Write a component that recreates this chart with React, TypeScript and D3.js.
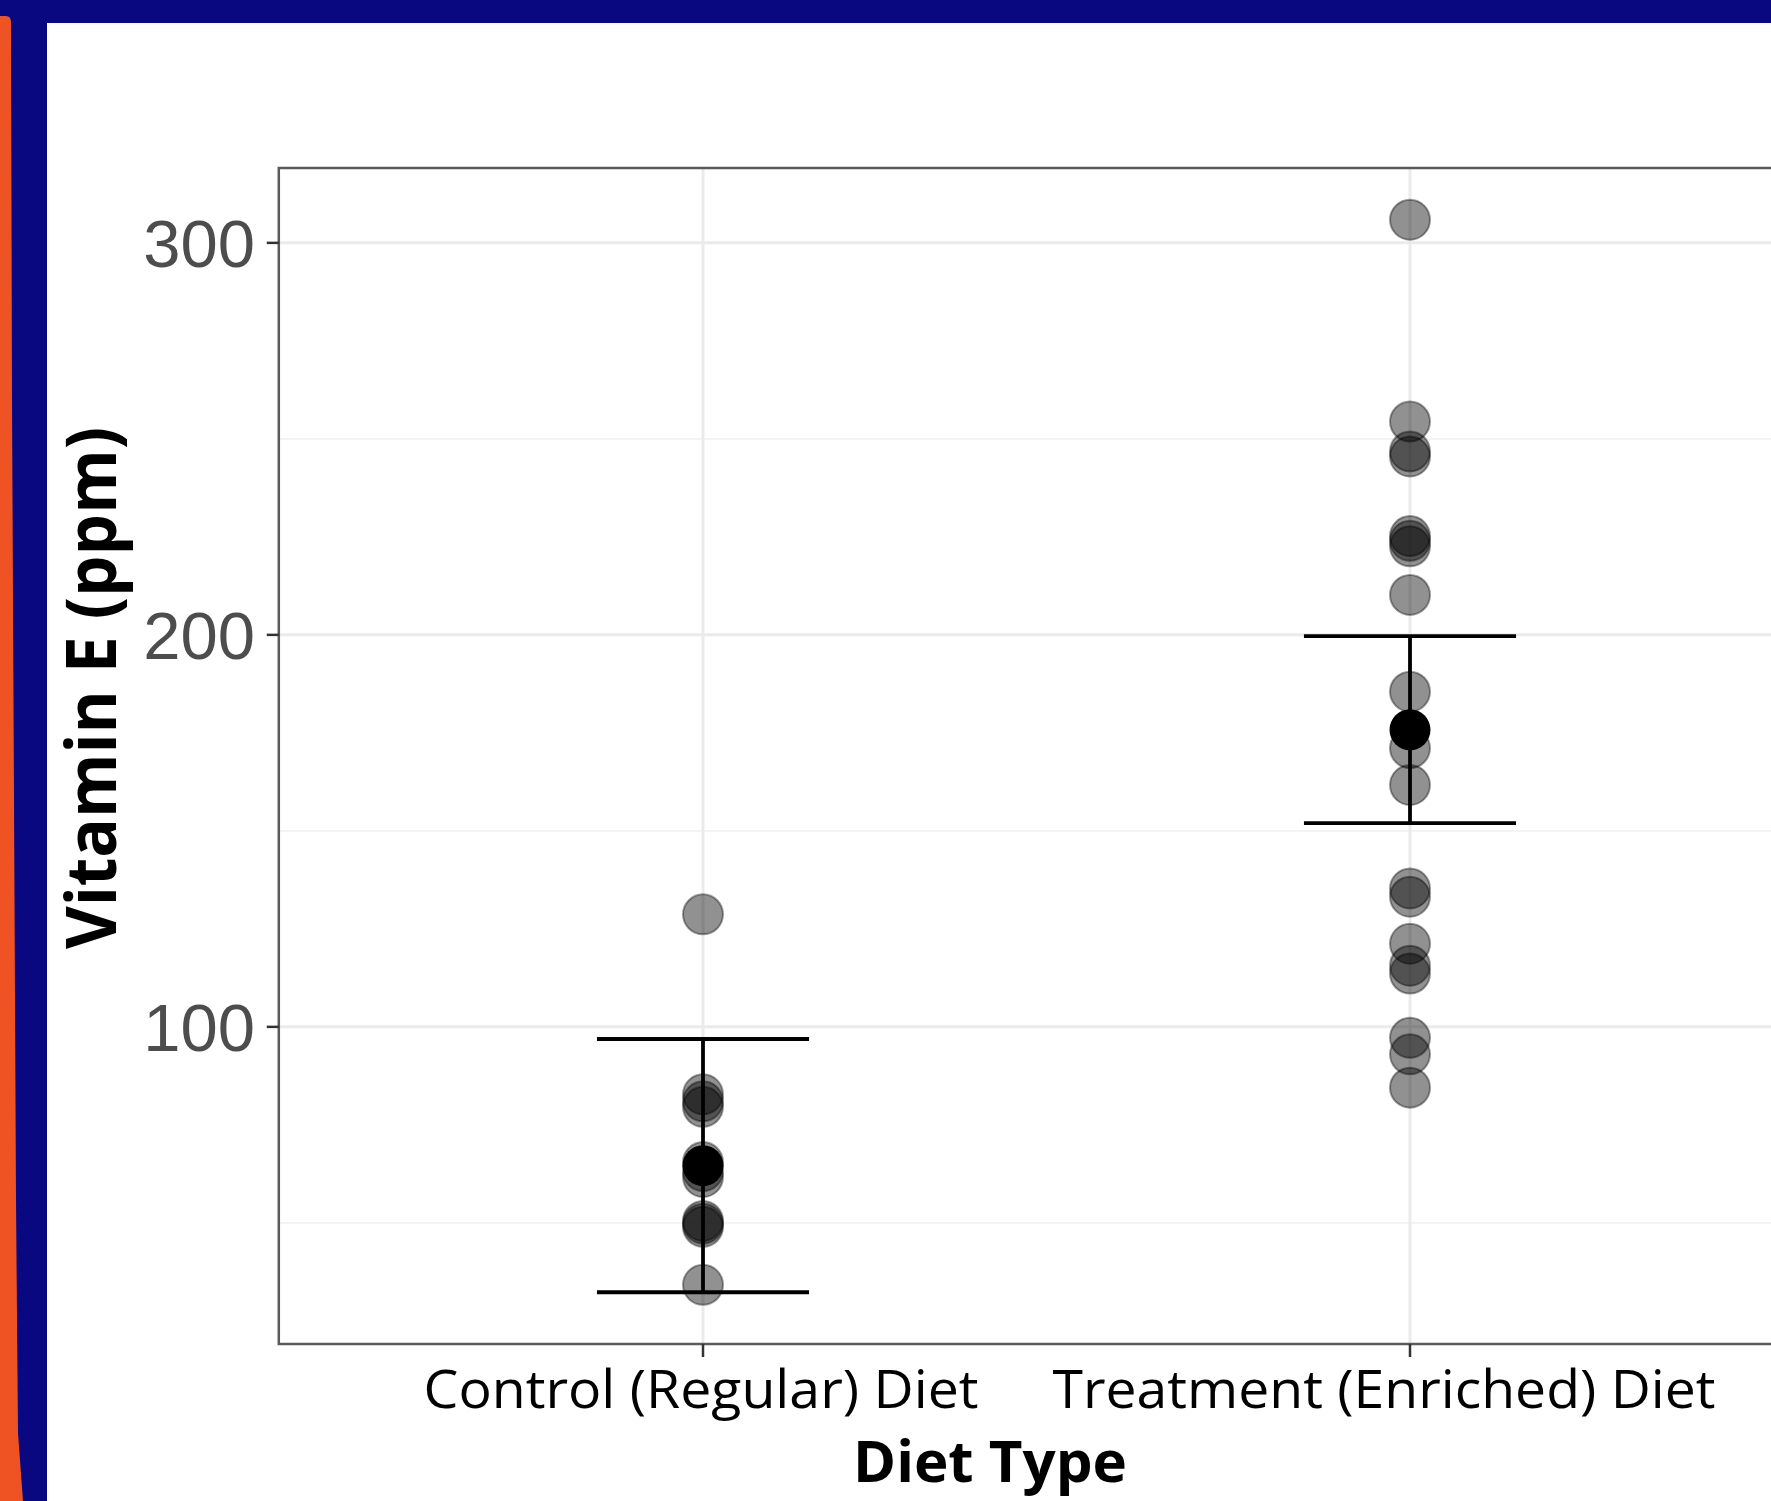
import React from "react";
import * as d3 from "d3";

const categories = ["Control (Regular) Diet", "Treatment (Enriched) Diet"];
const controlValues = [128.7, 82.8, 81.0, 79.6, 65.5, 63.2, 61.7, 50.5, 49.8, 49.0, 34.2];
const treatmentValues = [
  305.9, 254.4, 246.8, 245.5, 225.2, 224.0, 222.6, 210.2, 185.5, 171.1, 161.7,
  135.3, 133.2, 121.2, 115.6, 113.6, 97.2, 93.0, 84.5,
];
const groupMeans = [64.6, 175.8];
const groupLower = [32.3, 152.0];
const groupUpper = [96.9, 199.7];
const majorTicks = [100, 200, 300];
const minorTicks = [50, 150, 250];

const W = 1771;
const H = 1501;

export default function App() {
  const y = d3.scaleLinear().domain([19.1, 319.1]).range([1344, 168]);
  const x = d3.scalePoint<string>().domain(categories).range([703, 1410]);
  const step = x.step();
  const panelL = (x(categories[0]) as number) - 0.6 * step;
  const panelR = (x(categories[1]) as number) + 0.6 * step;
  const panelT = y.range()[1];
  const panelB = y.range()[0];
  const groups = [controlValues, treatmentValues];
  const r = 20;
  const ebHalf = 0.15 * step;

  return (
    <>
      <style>{`body{margin:0}`}</style>
      <svg width={W} height={H} style={{ display: "block" }}>
        <rect x={0} y={0} width={W} height={H} fill="#0a0880" />
        <path
          d="M0,16 L6,16 Q11,16 11,22 L12,400 L14,800 L16,1200 L18,1433 L23,1501 L0,1501 Z"
          fill="#f05323"
        />
        <rect x={47} y={23} width={W - 47} height={H - 23} fill="#ffffff" />

        {/* grid */}
        {minorTicks.map((t) => (
          <line key={"mi" + t} x1={panelL} x2={panelR} y1={y(t)} y2={y(t)} stroke="#f2f2f2" strokeWidth={1.6} />
        ))}
        {majorTicks.map((t) => (
          <line key={"ma" + t} x1={panelL} x2={panelR} y1={y(t)} y2={y(t)} stroke="#ebebeb" strokeWidth={3} />
        ))}
        {categories.map((c) => (
          <line key={"vg" + c} x1={x(c)} x2={x(c)} y1={panelT} y2={panelB} stroke="#ebebeb" strokeWidth={3} />
        ))}

        {/* points */}
        {groups.map((vals, gi) =>
          vals.map((v, i) => (
            <circle
              key={gi + "-" + i}
              cx={x(categories[gi])}
              cy={y(v)}
              r={r}
              fill="rgba(0,0,0,0.43)"
              stroke="rgba(0,0,0,0.38)"
              strokeWidth={2}
            />
          ))
        )}

        {/* error bars */}
        {categories.map((c, i) => {
          const cx = x(c) as number;
          return (
            <g key={"eb" + c} stroke="#000" strokeWidth={3.8}>
              <line x1={cx} x2={cx} y1={y(groupLower[i])} y2={y(groupUpper[i])} />
              <line x1={cx - ebHalf} x2={cx + ebHalf} y1={y(groupLower[i])} y2={y(groupLower[i])} />
              <line x1={cx - ebHalf} x2={cx + ebHalf} y1={y(groupUpper[i])} y2={y(groupUpper[i])} />
            </g>
          );
        })}
        {categories.map((c, i) => (
          <circle key={"m" + c} cx={x(c)} cy={y(groupMeans[i])} r={20.5} fill="#000" />
        ))}

        {/* panel border */}
        <rect x={panelL} y={panelT} width={panelR - panelL} height={panelB - panelT} fill="none" stroke="#5a5a5a" strokeWidth={2.5} />

        {/* y axis ticks */}
        {majorTicks.map((t) => (
          <g key={"yt" + t}>
            <line x1={panelL - 12} x2={panelL} y1={y(t)} y2={y(t)} stroke="#333" strokeWidth={2.5} />
            <text
              x={255}
              y={y(t)}
              dy="0.355em"
              textAnchor="end"
              fontFamily="'Liberation Sans', Arial, sans-serif"
              fontSize={67}
              fill="#4d4d4d"
            >
              {t}
            </text>
          </g>
        ))}

        {/* x axis ticks */}
        {categories.map((c, i) => (
          <g key={"xt" + c}>
            <line x1={x(c)} x2={x(c)} y1={panelB} y2={panelB + 13} stroke="#333" strokeWidth={2.5} />
            <text
              x={(x(c) as number) + (i === 1 ? -26 : -2)}
              y={1408}
              textAnchor="middle"
              fontFamily="'Open Sans', sans-serif"
              fontSize={53}
              fill="#000"
              textLength={i === 1 ? 663 : 555}
              lengthAdjust="spacingAndGlyphs"
            >
              {c}
            </text>
          </g>
        ))}

        {/* axis titles */}
        <text
          x={990}
          y={1482}
          textAnchor="middle"
          fontFamily="'Open Sans', sans-serif"
          fontWeight="bold"
          fontSize={58}
          fill="#000"
          textLength={274}
          lengthAdjust="spacingAndGlyphs"
        >
          Diet Type
        </text>
        <text
          transform="translate(116,688) rotate(-90)"
          textAnchor="middle"
          fontFamily="'Open Sans', sans-serif"
          fontWeight="bold"
          fontSize={70}
          fill="#000"
          textLength={522}
          lengthAdjust="spacingAndGlyphs"
        >
          Vitamin E (ppm)
        </text>
      </svg>
    </>
  );
}
